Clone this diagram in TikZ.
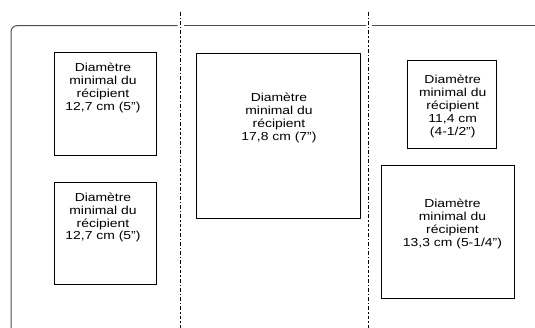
\documentclass[tikz,border=0pt]{standalone}
\usepackage{fontspec}
\setmainfont[FakeStretch=1.2]{Liberation Sans}
\begin{document}
\begin{tikzpicture}[x=1pt,y=-1pt,
  boxst/.style={draw=black,line width=0.9pt},
  txt/.style={anchor=north,align=center,inner sep=0pt,font=\fontsize{11.6}{12.9}\selectfont},
  sep/.style={draw=black,line width=1.5pt,dash pattern=on 3.8pt off 2pt on 1.4pt off 2pt},
  frame/.style={draw=black!70,line width=1pt}]
\useasboundingbox (0,0) rectangle (535,328);
\clip (0,0) rectangle (535,328);
% frame
\coordinate (f1) at (535,25.7);
\coordinate (g1) at (372,25.7);
\coordinate (g2) at (366,25.7);
\coordinate (g3) at (184,25.7);
\coordinate (g4) at (177.5,25.7);
\draw[frame] (f1) -- (g1);
\draw[frame] (g2) -- (g3);
\draw[frame,rounded corners=6pt] (g4) -- (11,25.7) -- (11,336) -- (40,336);
% separators
\coordinate (s1t) at (180.7,12);
\coordinate (s1b) at (180.7,330);
\coordinate (s2t) at (368.5,12);
\coordinate (s2b) at (368.5,330);
\draw[sep] (s1t) -- (s1b);
\draw[sep] (s2t) -- (s2b);
% boxes
\draw[boxst] (54,52) rectangle (156.7,155.3);
\draw[boxst] (54,182) rectangle (156.7,284);
\draw[boxst] (196,53) rectangle (360.7,218);
\draw[boxst] (407.7,60) rectangle (496,148.7);
\draw[boxst] (381.7,165.3) rectangle (514,298);
% texts
\node[txt] (t1) at (103,63.2) {Diamètre\\minimal du\\récipient\\12,7 cm (5")};
\node[txt] (t2) at (103,192.5) {Diamètre\\minimal du\\récipient\\12,7 cm (5")};
\node[txt] (t3) at (279,93.2) {Diamètre\\minimal du\\récipient\\17,8 cm (7")};
\node[txt] (t4) at (452.7,75.2) {Diamètre\\minimal du\\récipient\\11,4 cm\\(4-1/2")};
\node[txt] (t5) at (452.5,198.8) {Diamètre\\minimal du\\récipient\\13,3 cm (5-1/4")};
\end{tikzpicture}
\end{document}
